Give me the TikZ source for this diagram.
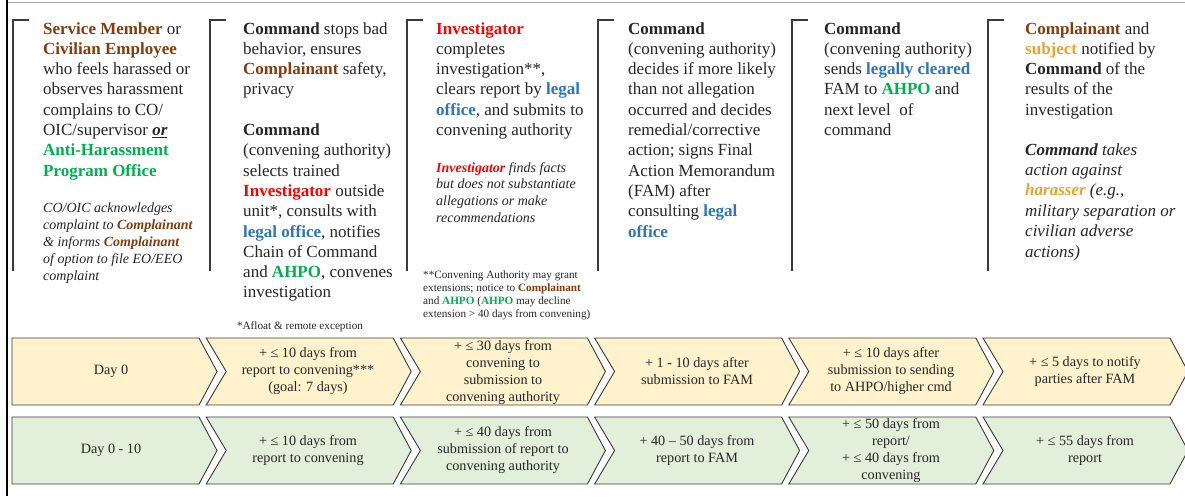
\documentclass[tikz,border=0pt]{standalone}
\usepackage{fontspec}
\setmainfont{Liberation Serif}
\definecolor{txt}{HTML}{262626}
\definecolor{brn}{HTML}{843C0C}
\definecolor{grn}{HTML}{00B050}
\definecolor{redc}{HTML}{FF0000}
\definecolor{blu}{HTML}{2E75B6}
\definecolor{org}{HTML}{EDA22E}
\definecolor{yel}{HTML}{FFF2CC}
\definecolor{lgr}{HTML}{E2EFDA}
\definecolor{chevline}{HTML}{3A3A3A}
\definecolor{brk}{HTML}{3A3A3A}
\definecolor{topline}{HTML}{A6A6A6}
\newcommand{\BR}[1]{{\bfseries\color{brn}#1}}
\newcommand{\BG}[1]{{\bfseries\color{grn}#1}}
\newcommand{\BRed}[1]{{\bfseries\color{redc}#1}}
\newcommand{\BB}[1]{{\bfseries\color{blu}#1}}
\newcommand{\BO}[1]{{\bfseries\color{org}#1}}
\tikzset{
  chevA/.style={draw=chevline, line width=0.9pt, fill=yel, line join=miter},
  chevB/.style={draw=chevline, line width=0.9pt, fill=lgr, line join=miter},
  chevtext/.style={align=center, font=\fontsize{14.2}{17}\selectfont, text=txt, inner sep=0},
  bracketline/.style={draw=brk, line width=1.4pt},
  maintext/.style={anchor=north west, align=left, inner sep=0, font=\fontsize{17}{20.3}\selectfont, text=txt},
  smallital/.style={anchor=north west, align=left, inner sep=0, font=\fontsize{14}{16.8}\selectfont\itshape, text=txt},
  bigital/.style={anchor=north west, align=left, inner sep=0, font=\fontsize{17}{20.4}\selectfont\itshape, text=txt},
  footnote/.style={align=left, inner sep=0, font=\fontsize{11.2}{12.7}\selectfont, text=txt},
}
\begin{document}
\begin{tikzpicture}[x=1pt, y=-1pt]
\useasboundingbox (0,0) rectangle (1185,496);
\fill[white] (0,0) rectangle (1185,496);
% frame
\coordinate (frameTL) at (7,2);
\coordinate (frameTR) at (1185,2);
\coordinate (frameBL) at (7,496);
\coordinate (frameT0) at (7,0);
\draw[topline, line width=1pt] (frameTL) -- (frameTR);
\draw[black, line width=1.2pt] (frameT0) -- (frameBL);
% brackets
\foreach \bx/\nm in {13/a, 210/b, 407/c, 598/d, 792/e, 988/f}{
  \coordinate (brk\nm top) at (\bx+16,20);
  \coordinate (brk\nm corner) at (\bx,20);
  \coordinate (brk\nm bot) at (\bx,271);
  \draw[bracketline] (brk\nm top) -- (brk\nm corner) -- (brk\nm bot);
}
% chevrons
\foreach \i in {0,...,5}{
  \pgfmathsetmacro{\L}{12+194.2*\i}
  \pgfmathsetmacro{\S}{\L+187}
  \pgfmathsetmacro{\T}{\L+205}
  \pgfmathsetmacro{\N}{\L+20}
  \ifnum\i=0
    \draw[chevA] (\L,338) -- (\S,338) -- (\T,371.5) -- (\S,405) -- (\L,405) -- cycle;
    \draw[chevB] (\L,417) -- (\S,417) -- (\T,450.5) -- (\S,484) -- (\L,484) -- cycle;
  \else
    \draw[chevA] (\L,338) -- (\S,338) -- (\T,371.5) -- (\S,405) -- (\L,405) -- (\N,371.5) -- cycle;
    \draw[chevB] (\L,417) -- (\S,417) -- (\T,450.5) -- (\S,484) -- (\L,484) -- (\N,450.5) -- cycle;
  \fi
}
% column texts
\node[maintext] (c1) at (43,22) {\BR{Service Member} or\\
\BR{Civilian Employee}\\
who feels harassed or\\
observes harassment\\
complains to CO/\\
OIC/supervisor \textbf{\textit{\underline{or}}}\\
\BG{Anti-Harassment}\\
\BG{Program Office}};
\node[smallital] (c1i) at (43,203) {CO/OIC acknowledges\\
complaint to \BR{Complainant}\\
\& informs \BR{Complainant}\\
of option to file EO/EEO\\
complaint};

\node[maintext] (c2) at (243,22) {\textbf{Command} stops bad\\
behavior, ensures\\
\BR{Complainant} safety,\\
privacy\\[20.3pt]
\textbf{Command}\\
(convening authority)\\
selects trained\\
\BRed{Investigator} outside\\
unit*, consults with\\
\BB{legal office}, notifies\\
Chain of Command\\
and \BG{AHPO}, convenes\\
investigation};
\node[footnote, anchor=base] (c2f) at (300,329) {*Afloat \& remote exception};

\node[maintext] (c3) at (436,22) {\BRed{Investigator}\\
completes\\
investigation**,\\
clears report by \BB{legal}\\
\BB{office}, and submits to\\
convening authority};
\node[smallital] (c3i) at (436,162) {\BRed{Investigator} finds facts\\
but does not substantiate\\
allegations or make\\
recommendations};
\node[footnote, anchor=north west] (c3f) at (423,271) {**Convening Authority may grant\\
extensions; notice to \BR{Complainant}\\
and \BG{AHPO} (\BG{AHPO} may decline\\
extension > 40 days from convening)};

\node[maintext] (c4) at (628,22) {\textbf{Command}\\
(convening authority)\\
decides if more likely\\
than not allegation\\
occurred and decides\\
remedial/corrective\\
action; signs Final\\
Action Memorandum\\
(FAM) after\\
consulting \BB{legal}\\
\BB{office}};

\node[maintext] (c5) at (824,22) {\textbf{Command}\\
(convening authority)\\
sends \BB{legally cleared}\\
FAM to \BG{AHPO} and\\
next level\ \ of\\
command};

\node[maintext] (c6) at (1025,22) {\BR{Complainant} and\\
\BO{subject} notified by\\
\textbf{Command} of the\\
results of the\\
investigation};
\node[bigital] (c6i) at (1025,143) {\textbf{Command} takes\\
action against\\
\BO{harasser} (e.g.,\\
military separation or\\
civilian adverse\\
actions)};

% chevron texts row 1
\node[chevtext] (r1a) at (111,371.5) {Day 0};
\node[chevtext] (r1b) at (308,371.5) {+ ≤ 10 days from\\report to convening***\\(goal: 7 days)};
\node[chevtext] (r1c) at (503,372.5) {+ ≤ 30 days from\\convening to\\submission to\\convening authority};
\node[chevtext] (r1d) at (697,371.5) {+ 1 - 10 days after\\submission to FAM};
\node[chevtext] (r1e) at (891,371.5) {+ ≤ 10 days after\\submission to sending\\to AHPO/higher cmd};
\node[chevtext] (r1f) at (1085,371.5) {+ ≤ 5 days to notify\\parties after FAM};
% chevron texts row 2
\node[chevtext] (r2a) at (111,450.5) {Day 0 - 10};
\node[chevtext] (r2b) at (308,450.5) {+ ≤ 10 days from\\report to convening};
\node[chevtext] (r2c) at (503,450.5) {+ ≤ 40 days from\\submission of report to\\convening authority};
\node[chevtext] (r2d) at (697,450.5) {+ 40 -- 50 days from\\report to FAM};
\node[chevtext] (r2e) at (891,451) {+ ≤ 50 days from\\report/\\+ ≤ 40 days from\\convening};
\node[chevtext] (r2f) at (1085,450.5) {+ ≤ 55 days from\\report};
\end{tikzpicture}
\end{document}
